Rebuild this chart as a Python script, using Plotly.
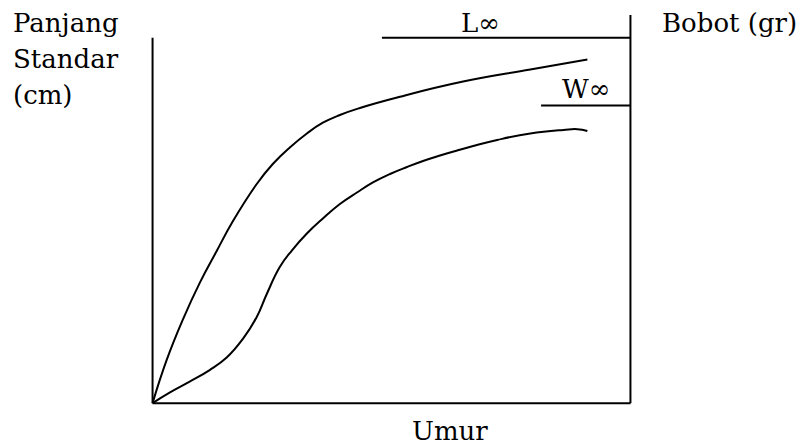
import plotly.graph_objects as go

# ---- data (x: Umur, y: relative size, 0-100 scale) ----
umur_L = [0, 2.94, 6.29, 9.85, 13.42, 16.77, 21.80, 25.16, 28.72, 32.29, 35.64, 39.20,
          43.40, 51.78, 64.99, 79.04, 90.99]
panjang = [0, 10.94, 21.12, 30.53, 38.68, 46.18, 55.73, 60.81, 65.01, 68.58, 71.30, 73.28,
           75.06, 77.91, 81.76, 84.83, 87.38]

umur_W = [0, 3.56, 7.76, 11.95, 15.51, 18.87, 21.80, 23.90, 26.62, 29.14, 32.29, 35.64,
          39.20, 42.77, 46.12, 49.69, 53.25, 56.60, 60.17, 63.73, 67.09, 72.12, 79.04,
          85.95, 88.89, 90.99]
bobot = [0, 2.67, 5.47, 8.40, 11.58, 16.28, 21.88, 27.74, 34.61, 38.80, 43.13, 46.95,
         50.64, 53.56, 56.11, 58.27, 60.05, 61.58, 62.98, 64.25, 65.39, 66.92, 68.58,
         69.47, 69.67, 69.21]

L_inf = 92.9
W_inf = 75.7
L_start = 48.0
W_start = 81.3
left_axis_top = 92.9
right_axis_top = 98.7

FONT = "DejaVu Serif"
BLACK = "#000000"

W, H = 798, 445
XR = [-2, 102]
YR = [-2, 102]
PX_PER_X = 4.77
PX_PER_Y = 3.93
plot_left = 153 - (0 - XR[0]) * PX_PER_X
plot_w = (XR[1] - XR[0]) * PX_PER_X
plot_bottom = 403 + (0 - YR[0]) * PX_PER_Y
plot_h = (YR[1] - YR[0]) * PX_PER_Y
m_l = plot_left
m_r = W - plot_left - plot_w
m_b = H - plot_bottom
m_t = plot_bottom - plot_h


def px(xp):
    return (xp - plot_left) / plot_w


def py(yp):
    return (plot_bottom - yp) / plot_h


fig = go.Figure()
fig.add_trace(go.Scatter(x=umur_L, y=panjang, mode="lines",
                         line=dict(color=BLACK, width=2, shape="spline", smoothing=1.3),
                         hoverinfo="skip", showlegend=False))
fig.add_trace(go.Scatter(x=umur_W, y=bobot, mode="lines",
                         line=dict(color=BLACK, width=2, shape="spline", smoothing=1.3),
                         hoverinfo="skip", showlegend=False))

line = dict(color=BLACK, width=2)
fig.add_shape(type="line", x0=0, y0=0, x1=0, y1=left_axis_top, line=line)
fig.add_shape(type="line", x0=0, y0=0, x1=100, y1=0, line=line)
fig.add_shape(type="line", x0=100, y0=0, x1=100, y1=right_axis_top, line=line)
fig.add_shape(type="line", x0=L_start, y0=L_inf, x1=100, y1=L_inf, line=line)
fig.add_shape(type="line", x0=W_start, y0=W_inf, x1=100, y1=W_inf, line=line)

fs = 26
labels = [
    ("Panjang", 12, 23, "left"),
    ("Standar", 12, 59, "left"),
    ("(cm)", 12, 95, "left"),
    ("Bobot (gr)", 660, 23, "left"),
    ("L∞", 480, 23, "center"),
    ("W∞", 586, 89, "center"),
    ("Umur", 450, 431, "center"),
]
for text, xp, yp, anc in labels:
    fig.add_annotation(text=text, x=px(xp), y=py(yp), xref="paper", yref="paper",
                       xanchor=anc, yanchor="middle", showarrow=False,
                       font=dict(family=FONT, size=fs, color=BLACK))

fig.update_xaxes(range=XR, visible=False, showgrid=False, zeroline=False, fixedrange=True)
fig.update_yaxes(range=YR, visible=False, showgrid=False, zeroline=False, fixedrange=True)
fig.update_layout(width=W, height=H, margin=dict(l=m_l, r=m_r, t=m_t, b=m_b, pad=0),
                  paper_bgcolor="white", plot_bgcolor="white", showlegend=False)

fig.write_html("out.html", config={"displayModeBar": False},
               post_script="document.body.style.margin='0px';document.body.style.overflow='hidden';")
